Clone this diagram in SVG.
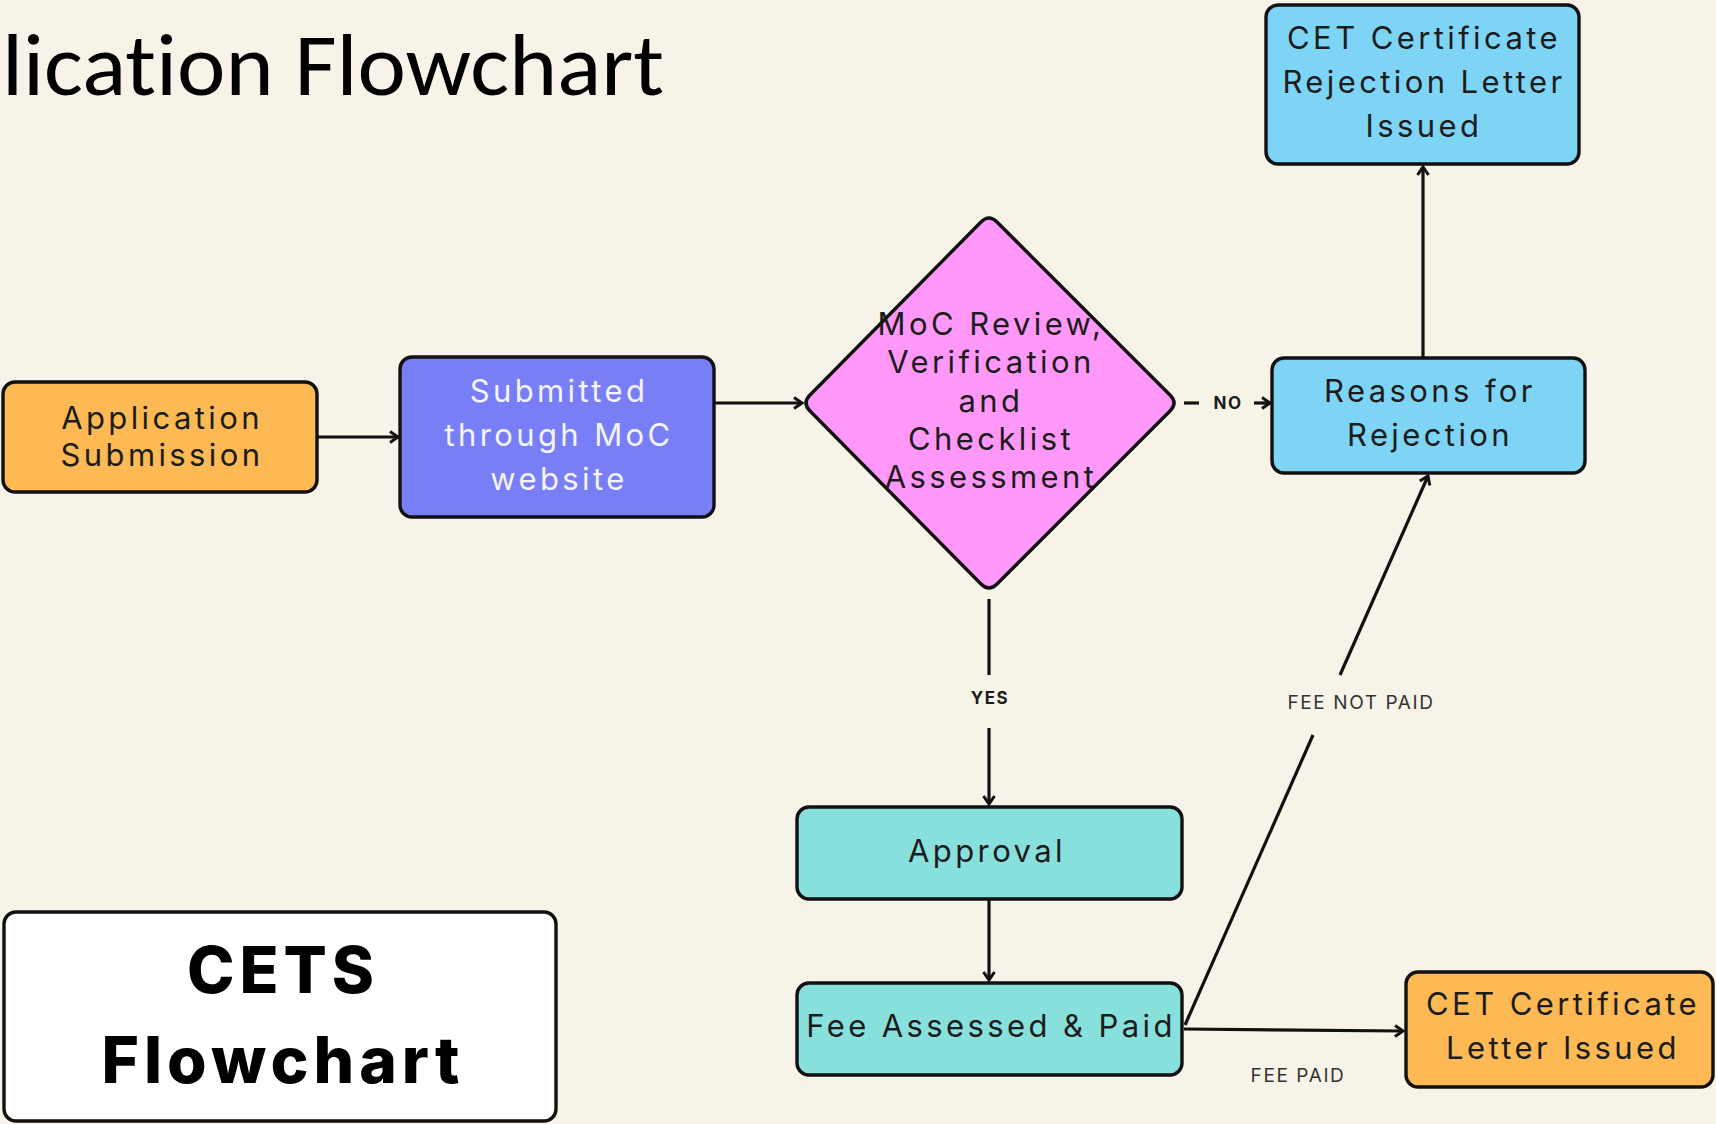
<svg xmlns="http://www.w3.org/2000/svg" width="1716" height="1124" viewBox="0 0 1716 1124">
<style>
.box{stroke:#111;stroke-width:3.4}
.t{font-family:Inter,"DejaVu Sans",sans-serif;font-size:31px;fill:#1c1c1c;text-anchor:middle;letter-spacing:3.4px}
.tw{fill:#f4f4ff}
.c{fill:none;stroke:#111;stroke-width:3.2}
.lb{font-family:Inter,"DejaVu Sans",sans-serif;font-size:17px;fill:#1c1c1c;text-anchor:middle;font-weight:700;letter-spacing:1.5px}
.lr{font-family:Inter,"DejaVu Sans",sans-serif;font-size:19px;fill:#333;text-anchor:middle;letter-spacing:1.6px}
.big{font-family:Inter,"DejaVu Sans",sans-serif;font-size:64px;font-weight:800;fill:#000;text-anchor:middle;letter-spacing:5px}
</style>
<defs>
<marker id="ah" markerUnits="userSpaceOnUse" markerWidth="14" markerHeight="14" refX="10" refY="7" orient="auto">
<path d="M2,1.5 L10,7 L2,12.5" fill="none" stroke="#111" stroke-width="3"/>
</marker>
</defs>
<rect x="0" y="0" width="1716" height="1124" fill="#f8f3e8"/>
<text x="2" y="95" font-family="Carlito,Calibri,'Open Sans',sans-serif" font-size="88" fill="#000" style="font-variant-ligatures:none" textLength="662" lengthAdjust="spacingAndGlyphs">lication Flowchart</text>

<g id="connectors">
<path class="c" d="M317,437 L398,437" marker-end="url(#ah)"/>
<path class="c" d="M714,403 L802,403" marker-end="url(#ah)"/>
<path class="c" d="M1184,403 L1199,403"/>
<text class="lb" x="1228" y="409">NO</text>
<path class="c" d="M1254,403 L1270,403" marker-end="url(#ah)"/>
<path class="c" d="M989,599 L989,675"/>
<text class="lb" x="990" y="704">YES</text>
<path class="c" d="M989,728 L989,804" marker-end="url(#ah)"/>
<path class="c" d="M989,899 L989,980" marker-end="url(#ah)"/>
<path class="c" d="M1184,1029 L1403,1031" marker-end="url(#ah)"/>
<text class="lr" x="1298" y="1082">FEE PAID</text>
<path class="c" d="M1185,1025 L1313,735"/>
<path class="c" d="M1340,675 L1428,476" marker-end="url(#ah)"/>
<text class="lr" x="1361" y="709">FEE NOT PAID</text>
<path class="c" d="M1423,358 L1423,167" marker-end="url(#ah)"/>
</g>

<g id="app-submission">
<rect class="box" x="3" y="382" width="314" height="110" rx="12" fill="#fdb954"/>
<text class="t" x="162" y="429">Application</text>
<text class="t" x="162" y="466">Submission</text>
</g>

<g id="submitted-moc">
<rect class="box" x="400" y="357" width="314" height="160" rx="12" fill="#787ef5"/>
<text class="t tw" x="559" y="402">Submitted</text>
<text class="t tw" x="559" y="446">through MoC</text>
<text class="t tw" x="559" y="490">website</text>
</g>

<g id="moc-review">
<path class="box" d="M981,222 Q989,214 997,222 L1170,395 Q1178,403 1170,411 L997,584 Q989,592 981,584 L810,411 Q802,403 810,395 Z" fill="#ff98f8"/>
<text class="t" x="991" y="335">MoC Review,</text>
<text class="t" x="991" y="373">Verification</text>
<text class="t" x="991" y="412">and</text>
<text class="t" x="991" y="450">Checklist</text>
<text class="t" x="991" y="488">Assessment</text>
</g>

<g id="reasons-rejection">
<rect class="box" x="1272" y="358" width="313" height="115" rx="12" fill="#7dd4f5"/>
<text class="t" x="1430" y="402">Reasons for</text>
<text class="t" x="1430" y="446">Rejection</text>
</g>

<g id="rejection-letter">
<rect class="box" x="1266" y="5" width="313" height="159" rx="12" fill="#7dd4f5"/>
<text class="t" x="1424" y="49">CET Certificate</text>
<text class="t" x="1424" y="93">Rejection Letter</text>
<text class="t" x="1424" y="137">Issued</text>
</g>

<g id="approval">
<rect class="box" x="797" y="807" width="385" height="92" rx="12" fill="#88e0dc"/>
<text class="t" x="987" y="862">Approval</text>
</g>

<g id="fee-assessed">
<rect class="box" x="797" y="983" width="385" height="92" rx="12" fill="#88e0dc"/>
<text class="t" x="991" y="1037">Fee Assessed &amp; Paid</text>
</g>

<g id="certificate-letter">
<rect class="box" x="1406" y="972" width="307" height="115" rx="12" fill="#fdb954"/>
<text class="t" x="1563" y="1015">CET Certificate</text>
<text class="t" x="1563" y="1059">Letter Issued</text>
</g>

<g id="cets-flowchart">
<rect class="box" x="4" y="912" width="552" height="209" rx="12" fill="#fff"/>
<text class="big" x="283" y="993">CETS</text>
<text class="big" x="283" y="1083">Flowchart</text>
</g>
</svg>
